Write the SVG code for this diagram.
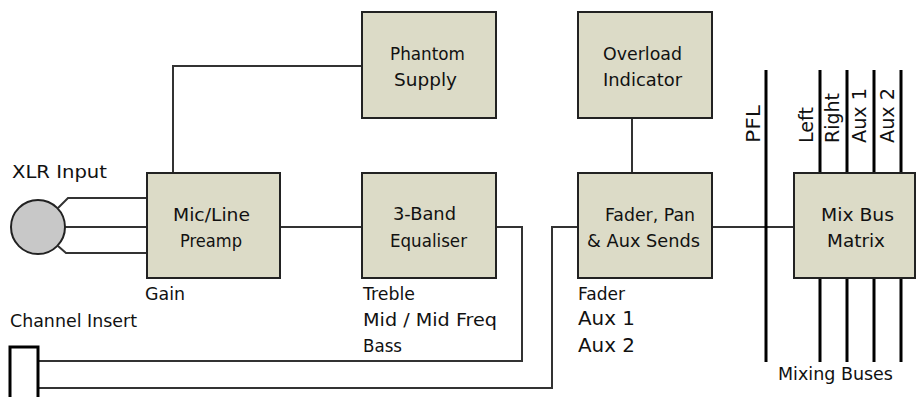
<svg xmlns="http://www.w3.org/2000/svg" width="917" height="397" viewBox="0 0 917 397">
<style>
.box{fill:#dcdbc7;stroke:#222;stroke-width:2}
.con{fill:none;stroke:#333;stroke-width:2}
.bus{fill:none;stroke:#000;stroke-width:3}
text{font-family:"DejaVu Sans","Liberation Sans",sans-serif;font-size:17px;fill:#111}
.big{font-size:20px}
</style>
<rect width="917" height="397" fill="#fff"/>
<g id="connectors">
<path class="con" d="M173 173V66H362"/>
<path class="con" d="M280 227H362"/>
<path class="con" d="M496 227H522V361H38"/>
<path class="con" d="M38 388H552V227H578"/>
<path class="con" d="M632 118V173"/>
<path class="con" d="M712 227H794"/>
<path class="con" d="M58 208L68 198H147M65 227H147M58 246L66 253H147"/>
<path class="bus" d="M766 70V362M820 70V173M847 70V173M874 70V173M901 70V173M820 278V362M847 278V362M874 278V362M901 278V362"/>
</g>
<g id="xlr">
<circle cx="38" cy="227" r="27" fill="#c8c8c8" stroke="#222" stroke-width="2"/>
<text x="12" y="178" textLength="95" lengthAdjust="spacingAndGlyphs">XLR Input</text>
</g>
<g id="insert">
<rect x="10" y="347" width="28" height="60" fill="none" stroke="#000" stroke-width="3"/>
<text x="10" y="327" textLength="127" lengthAdjust="spacingAndGlyphs">Channel Insert</text>
</g>
<g id="preamp">
<rect class="box" x="147" y="173" width="133" height="105"/>
<text x="173" y="221" textLength="77" lengthAdjust="spacingAndGlyphs">Mic/Line</text>
<text x="180" y="247" textLength="62" lengthAdjust="spacingAndGlyphs">Preamp</text>
<text x="145" y="300" textLength="40" lengthAdjust="spacingAndGlyphs">Gain</text>
</g>
<g id="phantom">
<rect class="box" x="362" y="12" width="134" height="106"/>
<text x="390" y="60" textLength="75" lengthAdjust="spacingAndGlyphs">Phantom</text>
<text x="394" y="86" textLength="63" lengthAdjust="spacingAndGlyphs">Supply</text>
</g>
<g id="eq">
<rect class="box" x="362" y="173" width="134" height="105"/>
<text x="393" y="220" textLength="63" lengthAdjust="spacingAndGlyphs">3-Band</text>
<text x="390" y="247" textLength="77" lengthAdjust="spacingAndGlyphs">Equaliser</text>
<text x="363" y="300" textLength="52" lengthAdjust="spacingAndGlyphs">Treble</text>
<text x="363" y="326" textLength="134" lengthAdjust="spacingAndGlyphs">Mid / Mid Freq</text>
<text x="363" y="352" textLength="39" lengthAdjust="spacingAndGlyphs">Bass</text>
</g>
<g id="overload">
<rect class="box" x="578" y="12" width="134" height="106"/>
<text x="603" y="60" textLength="79" lengthAdjust="spacingAndGlyphs">Overload</text>
<text x="603" y="86" textLength="79" lengthAdjust="spacingAndGlyphs">Indicator</text>
</g>
<g id="fader">
<rect class="box" x="578" y="173" width="134" height="105"/>
<text x="605" y="221" textLength="90" lengthAdjust="spacingAndGlyphs">Fader, Pan</text>
<text x="587" y="247" textLength="113" lengthAdjust="spacingAndGlyphs">&amp; Aux Sends</text>
<text x="578" y="300" textLength="47" lengthAdjust="spacingAndGlyphs">Fader</text>
<text class="big" x="578" y="325" textLength="57" lengthAdjust="spacingAndGlyphs">Aux 1</text>
<text class="big" x="578" y="352" textLength="57" lengthAdjust="spacingAndGlyphs">Aux 2</text>
</g>
<g id="mixbus">
<rect class="box" x="794" y="173" width="121" height="105"/>
<text x="821" y="221" textLength="73" lengthAdjust="spacingAndGlyphs">Mix Bus</text>
<text x="827" y="247" textLength="58" lengthAdjust="spacingAndGlyphs">Matrix</text>
<text x="778" y="380" textLength="115" lengthAdjust="spacingAndGlyphs">Mixing Buses</text>
</g>
<g id="bus-labels">
<text class="big" transform="translate(760,143) rotate(-90)" textLength="38" lengthAdjust="spacingAndGlyphs">PFL</text>
<text class="big" transform="translate(813,143) rotate(-90)" textLength="36" lengthAdjust="spacingAndGlyphs">Left</text>
<text class="big" transform="translate(839,143) rotate(-90)" textLength="50" lengthAdjust="spacingAndGlyphs">Right</text>
<text class="big" transform="translate(866,143) rotate(-90)" textLength="55" lengthAdjust="spacingAndGlyphs">Aux 1</text>
<text class="big" transform="translate(894,143) rotate(-90)" textLength="55" lengthAdjust="spacingAndGlyphs">Aux 2</text>
</g>
</svg>
